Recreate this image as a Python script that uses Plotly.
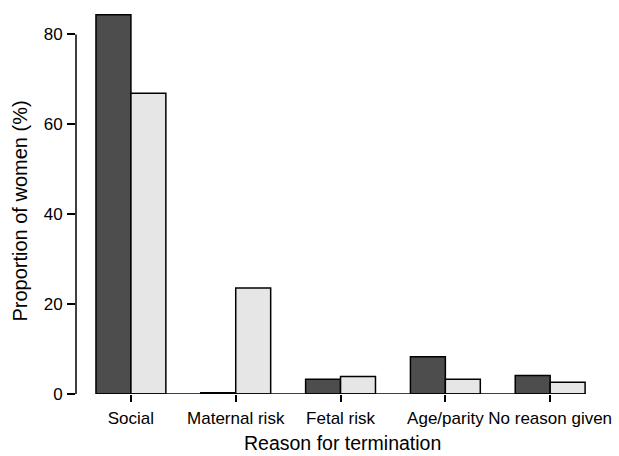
import plotly.graph_objects as go

categories = ["Social", "Maternal risk", "Fetal risk", "Age/parity", "No reason given"]
series_a = [84.4, 0.3, 3.3, 8.3, 4.1]
series_b = [66.9, 23.6, 3.9, 3.3, 2.6]
y_ticks = [0, 20, 40, 60, 80]
x_title = "Reason for termination"
y_title = "Proportion of women (%)"

font = dict(family="Liberation Sans, Arial, sans-serif", size=17, color="#000000")

fig = go.Figure()
fig.add_trace(go.Bar(x=categories, y=series_a, marker=dict(color="#4d4d4d", line=dict(color="#000000", width=1.5)), showlegend=False, hoverinfo="skip"))
fig.add_trace(go.Bar(x=categories, y=series_b, marker=dict(color="#e6e6e6", line=dict(color="#000000", width=1.5)), showlegend=False, hoverinfo="skip"))

# R-style y axis line from 0 to 80
fig.add_shape(type="line", xref="paper", yref="y", x0=0, x1=0, y0=y_ticks[0], y1=y_ticks[-1],
              line=dict(color="#000000", width=1.5))
# baseline across bars
fig.add_shape(type="line", xref="x", yref="y", x0=-1/3, x1=len(categories) - 1 + 1/3, y0=0, y1=0,
              line=dict(color="#000000", width=1.5))

# axis titles as annotations for exact placement
fig.add_annotation(text=x_title, xref="paper", yref="paper", x=0.519, y=-0.1595,
                   xanchor="center", yanchor="bottom", showarrow=False, borderpad=0,
                   font=dict(size=19.5))
fig.add_annotation(text=y_title, xref="paper", yref="paper", x=-0.109, y=0.48,
                   xanchor="center", yanchor="middle", textangle=-90, showarrow=False,
                   font=dict(size=20))

fig.update_layout(
    width=619, height=456,
    margin=dict(l=76, r=29, t=11.5, b=62, autoexpand=False),
    paper_bgcolor="white", plot_bgcolor="white",
    barmode="group", bargap=1/3, bargroupgap=0,
    font=font,
)
fig.update_xaxes(
    range=[-0.524, 4.38], showline=False, showgrid=False, zeroline=False, automargin=False,
    ticks="outside", ticklen=7, tickwidth=1.5, tickcolor="#000000",
    tickfont=dict(size=17), ticklabelstandoff=2,
)
fig.update_yaxes(
    range=[0, 85], showline=False, showgrid=False, zeroline=False, automargin=False,
    tickvals=y_ticks, ticks="outside", ticklen=8, tickwidth=1.5, tickcolor="#000000",
    tickfont=dict(size=17), ticklabelstandoff=1,
)

fig.write_html("out.html", config={"displayModeBar": False},
               post_script="document.body.style.margin='0';")
